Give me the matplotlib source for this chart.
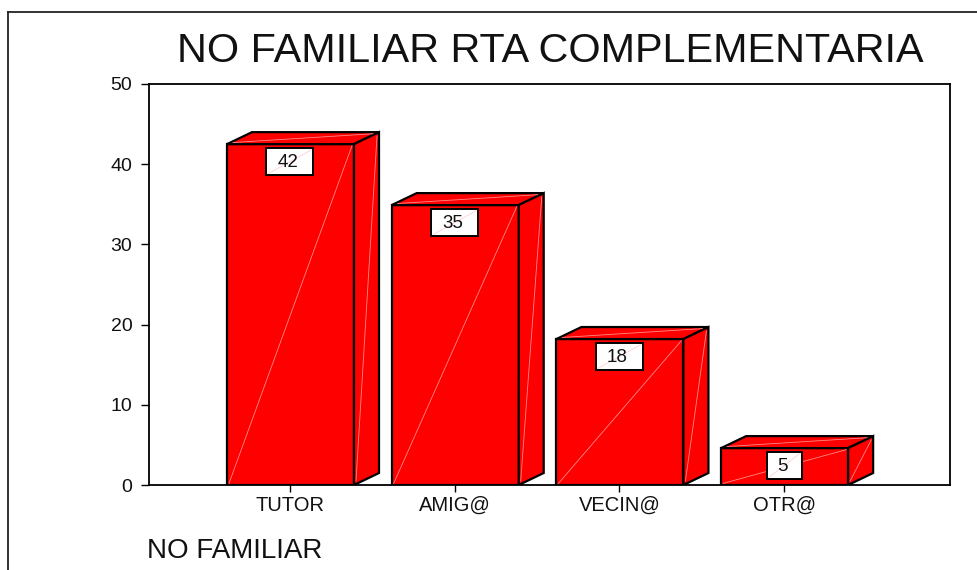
import matplotlib
matplotlib.use('Agg')
import matplotlib.pyplot as plt
from matplotlib.patches import Polygon, Rectangle
from matplotlib.lines import Line2D

plt.rcParams['font.family'] = ['Liberation Sans', 'DejaVu Sans']

categories = ['TUTOR', 'AMIG@', 'VECIN@', 'OTR@']
heights = [42.5, 34.9, 18.2, 4.6]
labels = ['42', '35', '18', '5']
yticks = [0, 10, 20, 30, 40, 50]

W, H = 978, 570
fig = plt.figure(figsize=(W / 100, H / 100), dpi=100, facecolor='white')
ax = fig.add_axes([149 / W, 1 - 485 / H, (950 - 149) / W, (485 - 84) / H])

# px per unit: x 164.7, y 8.02
ax.set_xlim(-0.856, 4.007)
ax.set_ylim(0, 50)
px_x = 1 / 164.7
px_y = 1 / 8.02

bar_w = 127 * px_x
dx = 25 * px_x
dy = 12 * px_y
pale = '#ff8a8a'

for i, h in enumerate(heights):
    l = i - 63 * px_x
    r = l + bar_w
    # front
    ax.add_patch(Rectangle((l, 0), bar_w, h, fc='#ff0000', ec='black', lw=1.6, zorder=3))
    # top
    ax.add_patch(Polygon([(l, h), (l + dx, h + dy), (r + dx, h + dy), (r, h)],
                         closed=True, fc='#ff0000', ec='black', lw=1.6, zorder=3))
    # side
    ax.add_patch(Polygon([(r, 0), (r + dx, dy), (r + dx, h + dy), (r, h)],
                         closed=True, fc='#ff0000', ec='black', lw=1.6, zorder=3))
    # pale diagonals left by the renderer
    ax.plot([l + 2 * px_x, r - 2 * px_x], [0.2, h - 0.2], color=pale, lw=0.6, zorder=4)
    ax.plot([r + 2 * px_x, r + dx - 2 * px_x], [0.5, h + dy - 0.5], color=pale, lw=0.6, zorder=4)
    ax.plot([l + 6 * px_x, r + dx - 6 * px_x], [h + 0.2, h + dy - 0.2], color=pale, lw=0.6, zorder=4)
    # value box
    box_w = (47 if len(labels[i]) > 1 else 35) * px_x
    box_h = 27 * px_y
    top = h - 4 * px_y
    ax.add_patch(Rectangle((i - box_w / 2, top - box_h), box_w, box_h,
                           fc='white', ec='black', lw=1.4, zorder=5))
    ax.plot([i - box_w / 2 + 2 * px_x, i + box_w / 2 - 2 * px_x],
            [top - box_h + 0.2, top - 0.2], color='#ffc8c8', lw=0.5, zorder=6)
    ax.text(i - 2 * px_x, top - box_h / 2 - 0.1, labels[i], ha='center', va='center',
            fontsize=13.5, color='#111111', zorder=7)

ax.set_xticks(range(len(categories)))
ax.set_xticklabels(categories, fontsize=14.5, color='#111111')
ax.set_yticks(yticks)
ax.tick_params(axis='y', length=6, width=1.0, labelsize=14, pad=6, labelcolor='#111111')
ax.tick_params(axis='x', length=5, width=1.0, pad=3)
for s in ax.spines.values():
    s.set_linewidth(1.3)
    s.set_color('black')

fig.text(550 / W, 1 - 51 / H, 'NO FAMILIAR RTA COMPLEMENTARIA', ha='center', va='center',
         fontsize=29.8, color='#111111')
fig.text(147 / W, 1 - 551 / H, 'NO FAMILIAR', ha='left', va='center', fontsize=20, color='#111111')

# outer chart frame, cut off at the bottom and right of the image
for xs, ys in [([8, 8], [12, 570]), ([8, 978], [12, 12])]:
    fig.add_artist(Line2D([x / W for x in xs], [1 - y / H for y in ys], color='#222222', lw=1.3))

fig.savefig('out.png', dpi=100)
